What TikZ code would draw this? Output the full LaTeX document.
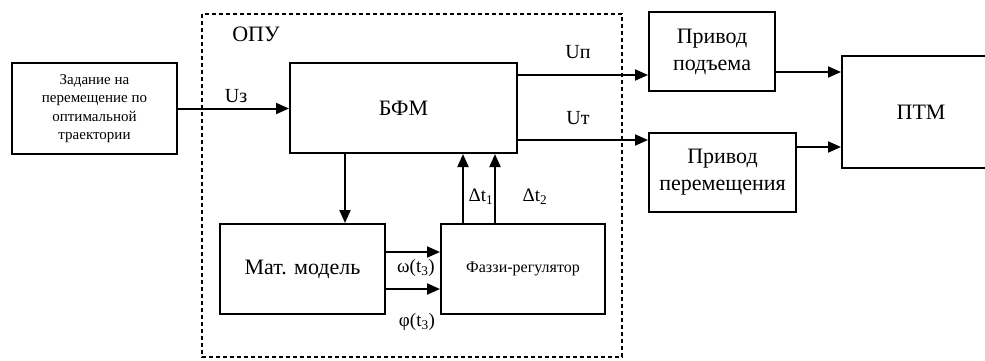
\documentclass[tikz,border=0pt]{standalone}
\usepackage{fontspec}
\setmainfont{Liberation Serif}
\usetikzlibrary{arrows.meta}

\begin{document}
\begin{tikzpicture}[x=1pt,y=-1pt,
  blk/.style={draw, line width=2pt, align=center, inner sep=0pt, font=\fontsize{22}{27}\selectfont},
  arr/.style={line width=2pt, -{Triangle[length=13pt,width=11pt]}},
  lbl/.style={inner sep=0pt, font=\fontsize{20}{22}\selectfont}]
  \useasboundingbox (0,0) rectangle (985,360);

  % ОПУ frame
  \draw[line width=1.8pt, dash pattern=on 4pt off 3pt] (202,14) rectangle (622,357);
  \node[lbl, font=\fontsize{22}{24}\selectfont] (opu) at (256,34) {ОПУ};

  \node[blk, minimum width=165pt, minimum height=91pt, font=\fontsize{15}{18.5}\selectfont] (zad) at (94.5,108.5) {Задание на\\перемещение по\\оптимальной\\траектории};
  \node[blk, minimum width=227pt, minimum height=90pt] (bfm) at (403.5,108) {БФМ};
  \node[blk, minimum width=165pt, minimum height=90pt] (mat) at (302.5,269) {Мат. модель};
  \node[blk, minimum width=164pt, minimum height=90pt, font=\fontsize{16}{18}\selectfont] (fuz) at (523,269) {Фаззи-регулятор};
  \node[blk, minimum width=126pt, minimum height=79pt] (pod) at (712,51.5) {Привод\\подъема};
  \node[blk, minimum width=147pt, minimum height=79pt] (per) at (722.5,172.5) {Привод\\перемещения};
  \node[blk, minimum width=158pt, minimum height=112pt] (ptm) at (921,112) {ПТМ};

  % levels of the connectors
  \coordinate (up) at (0,75);
  \coordinate (ut) at (0,140);
  \coordinate (p1) at (0,72);
  \coordinate (p2) at (0,147);
  \coordinate (m1) at (0,252);
  \coordinate (m2) at (0,289);
  \coordinate (d0) at (345,0);
  \coordinate (d1) at (463,0);
  \coordinate (d2) at (495,0);

  \draw[arr] (zad.east) -- (zad.east -| bfm.west);
  \draw[arr] (bfm.east |- up) -- (pod.west |- up);
  \draw[arr] (bfm.east |- ut) -- (per.west |- ut);
  \draw[arr] (pod.east |- p1) -- (ptm.west |- p1);
  \draw[arr] (per.east |- p2) -- (ptm.west |- p2);
  \draw[arr] (bfm.south -| d0) -- (mat.north -| d0);
  \draw[arr] (mat.east |- m1) -- (fuz.west |- m1);
  \draw[arr] (mat.east |- m2) -- (fuz.west |- m2);
  \draw[arr] (fuz.north -| d1) -- (bfm.south -| d1);
  \draw[arr] (fuz.north -| d2) -- (bfm.south -| d2);

  \node[lbl] (uz) at (236,96) {Uз};
  \node[lbl] (upl) at (578,52) {Uп};
  \node[lbl] (utl) at (578,118) {Uт};
  \node[lbl, font=\fontsize{19}{21}\selectfont] (dt1) at (481,197) {Δt\textsubscript{1}};
  \node[lbl, font=\fontsize{19}{21}\selectfont] (dt2) at (535,197) {Δt\textsubscript{2}};
  \node[lbl, font=\fontsize{19}{21}\selectfont] (om) at (416,268) {ω(t\textsubscript{3})};
  \node[lbl, font=\fontsize{19}{21}\selectfont] (ph) at (417,322) {φ(t\textsubscript{3})};
\end{tikzpicture}
\end{document}
